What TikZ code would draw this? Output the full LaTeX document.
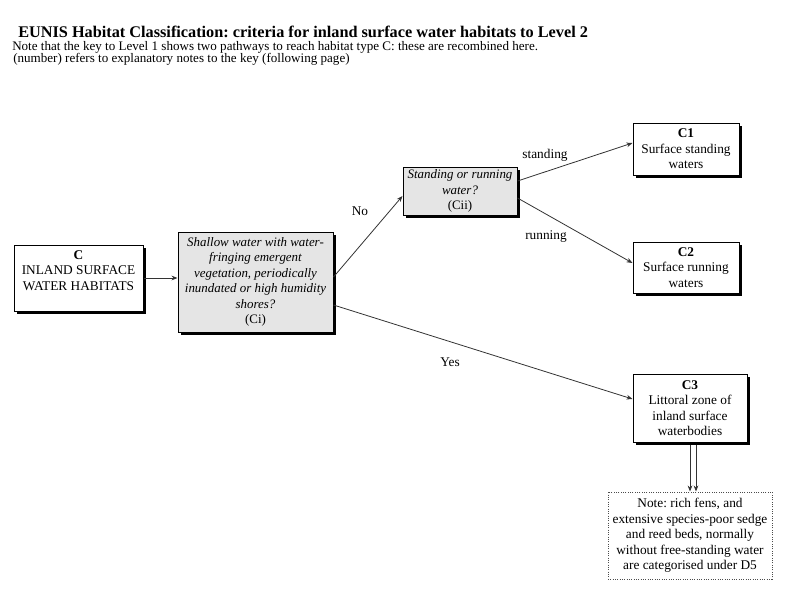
\documentclass[tikz,border=0pt]{standalone}
\usepackage{fontspec}
\setmainfont{Liberation Serif}
\usetikzlibrary{arrows.meta,shadows,calc}
\begin{document}
\frenchspacing
\begin{tikzpicture}[x=0.75pt,y=-0.75pt,
  every node/.style={font=\fontsize{10}{11.6}\selectfont},
  hbox/.style={draw=black,line width=0.75pt,fill=white,align=center,inner sep=0.5pt,
    drop shadow={shadow xshift=2pt,shadow yshift=-2pt,fill=black,opacity=1}},
  qbox/.style={hbox,fill=black!10,font=\fontsize{9.7}{11.6}\selectfont},
  notebox/.style={draw=black!70,densely dotted,line width=0.75pt,align=center,inner sep=0.5pt},
  conn/.style={draw=black!80,line width=0.6pt,-{Stealth[length=4.5pt,width=3.5pt]}},
  lbl/.style={inner sep=0pt}]
\useasboundingbox (0,0) rectangle (800,600);
\node[anchor=base west,inner sep=0pt,font=\fontsize{12.2}{14}\selectfont\bfseries] (title) at (18,37)
  {EUNIS Habitat Classification: criteria for inland surface water habitats to Level 2};
\node[anchor=base west,inner sep=0pt,font=\fontsize{9.8}{11}\selectfont] (note1) at (12,50)
  {Note that the key to Level 1 shows two pathways to reach habitat type C: these are recombined here.};
\node[anchor=base west,inner sep=0pt,font=\fontsize{9.8}{11}\selectfont] (note2) at (13,62)
  {(number) refers to explanatory notes to the key (following page)};

\node[hbox,minimum width=96.75pt,minimum height=49.5pt] (c) at (78.5,278)
  {\textbf{C}\\INLAND SURFACE\\WATER HABITATS\\\mbox{}};
\node[qbox,minimum width=116.25pt,minimum height=75pt] (ci) at (255.5,282)
  {\itshape Shallow water with water-\\\itshape fringing emergent\\\itshape vegetation, periodically\\\itshape inundated or high humidity\\\itshape shores?\\(Ci)};
\node[qbox,minimum width=85.5pt,minimum height=36pt] (cii) at (460,191)
  {\itshape Standing or running\\\itshape water?\\(Cii)};
\node[hbox,minimum width=79.5pt,minimum height=39pt] (c1) at (686,149)
  {\textbf{C1}\\Surface standing\\waters};
\node[hbox,minimum width=79.5pt,minimum height=38.25pt] (c2) at (686,267.5)
  {\textbf{C2}\\Surface running\\waters};
\node[hbox,minimum width=85.5pt,minimum height=51pt] (c3) at (690,408)
  {\textbf{C3}\\Littoral zone of\\inland surface\\waterbodies};
\node[notebox,minimum width=123pt,minimum height=65.25pt] (nt) at (690,535.5)
  {Note: rich fens, and\\extensive species-poor sedge\\and reed beds, normally\\without free-standing water\\are categorised under D5};

\draw[conn] (c.east) -- (c.east -| ci.west);
\draw[conn] ($(ci.east)+(0,-5)$) -- ($(cii.west)+(0,5)$);
\draw[conn] ($(cii.east)+(0,-10)$) -- ($(c1.west)+(0,-6)$);
\draw[conn] ($(cii.east)+(0,7)$) -- ($(c2.west)+(0,-4.5)$);
\draw[conn] ($(ci.east)+(0,23)$) -- ($(c3.west)+(0,-9)$);
\draw[conn] ($(c3.south)+(0,2)$) -- ($(nt.north)+(0,0)$);
\draw[conn] ($(c3.south)+(6,2)$) -- ($(nt.north)+(6,0)$);

\node[lbl] (lno) at (360,211) {No};
\node[lbl] (lst) at (545,155) {standing};
\node[lbl] (lrun) at (546,237) {running};
\node[lbl] (lyes) at (450,362) {Yes};
\end{tikzpicture}
\end{document}
